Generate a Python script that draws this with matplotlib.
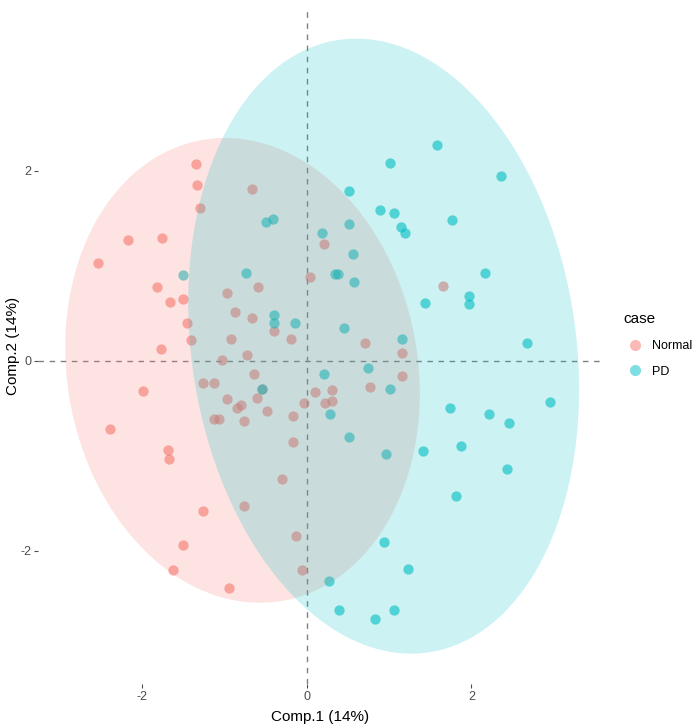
import numpy as np
import matplotlib.pyplot as plt
from matplotlib.lines import Line2D

plt.rcParams['font.family'] = ['Liberation Sans', 'DejaVu Sans']
plt.rcParams['axes.unicode_minus'] = False

# scores
normal_x = [-1.345, -1.337, -0.668, -1.30, -2.17, -1.76, -2.54, 0.214, 0.04, -1.82,
            -0.595, -1.665, -1.50, -0.965, -0.87, -0.66, -1.455, -0.40, -1.405, -0.92,
            -0.195, -1.77, -0.72, -1.033, 1.65, 0.708, 1.162, 0.769, 1.162, -0.637,
            -1.256, -1.123, -1.99, -0.547, -0.608, -0.972, -0.80, -0.843, -0.486, -1.123,
            -1.062, -0.762, -0.17, -0.033, 0.10, 0.307, 0.222, 0.307, -2.39, -1.68,
            -1.67, -0.163, -0.304, -0.762, -1.256, -1.507, -1.628, -0.94, -0.13, -0.061]
normal_y = [2.07, 1.85, 1.81, 1.61, 1.27, 1.29, 1.03, 1.225, 0.88, 0.78,
            0.78, 0.615, 0.65, 0.71, 0.51, 0.446, 0.40, 0.31, 0.215, 0.235,
            0.235, 0.12, 0.057, 0.007, 0.79, 0.19, 0.078, -0.273, -0.16, -0.133,
            -0.238, -0.238, -0.319, -0.30, -0.39, -0.396, -0.466, -0.50, -0.53, -0.61,
            -0.61, -0.635, -0.58, -0.44, -0.326, -0.308, -0.44, -0.42, -0.719, -0.94,
            -1.03, -0.853, -1.238, -1.526, -1.582, -1.94, -2.203, -2.39, -1.845, -2.196]

pd_x = [0.518, -0.50, -0.415, 0.186, 0.518, -1.507, -0.74, 0.344, 0.384, -0.397,
        -0.397, -0.142, 0.453, 1.58, 1.008, 2.36, 0.89, 1.065, 1.142, 1.198,
        1.765, 0.558, 0.575, 2.166, 1.976, 1.976, 1.434, 1.162, 2.68, -0.547,
        0.21, 0.279, 0.271, 0.392, 0.518, 0.749, 1.008, 0.964, 1.41, 1.741,
        2.215, 2.462, 2.956, 1.871, 2.438, 1.814, 0.943, 1.235, 1.065, 0.83]
pd_y = [1.786, 1.457, 1.49, 1.344, 1.436, 0.90, 0.926, 0.916, 0.916, 0.48,
        0.394, 0.40, 0.347, 2.27, 2.08, 1.95, 1.59, 1.56, 1.41, 1.35,
        1.48, 1.12, 0.83, 0.926, 0.684, 0.594, 0.604, 0.225, 0.19, -0.30,
        -0.143, -0.558, -2.316, -2.617, -0.80, -0.073, -0.298, -0.975, -0.947, -0.50,
        -0.558, -0.652, -0.431, -0.894, -1.133, -1.424, -1.905, -2.193, -2.617, -2.72]

# 95% ellipses: centre and covariance
normal_center = [-0.78, -0.10]
normal_cov = [[4.64, -0.52], [-0.52, 5.98]]
pd_center = [0.935, 0.155]
pd_cov = [[5.64, -1.08], [-1.08, 10.47]]

normalColor = "#F8766D"
pdColor = "#00BFC4"


def ellipse(center, cov, n=200):
    t = np.linspace(0, 2 * np.pi, n)
    L = np.linalg.cholesky(np.array(cov))
    pts = L @ np.vstack([np.cos(t), np.sin(t)])
    return pts[0] + center[0], pts[1] + center[1]


fig = plt.figure(figsize=(7, 7.28), dpi=100)
ax = fig.add_axes([38 / 700, 1 - 684 / 728, 565 / 700, 676 / 728])

ax.axhline(0, color="#808080", ls=(0, (4, 4)), lw=1, zorder=1)
ax.axvline(0, color="#808080", ls=(0, (4, 4)), lw=1, zorder=1)

ax.scatter(normal_x, normal_y, s=55, color=normalColor, alpha=0.6, lw=0, zorder=2)
ax.scatter(pd_x, pd_y, s=55, color=pdColor, alpha=0.6, lw=0, zorder=2)

ex, ey = ellipse(normal_center, normal_cov)
ax.fill(ex, ey, color=normalColor, alpha=0.2, lw=0, zorder=3)
ex, ey = ellipse(pd_center, pd_cov)
ax.fill(ex, ey, color=pdColor, alpha=0.2, lw=0, zorder=3)

ax.set_xlim(-3.265, 3.60)
ax.set_ylim(-3.40, 3.713)
ax.set_xticks([-2, 0, 2])
ax.set_yticks([-2, 0, 2])
for s in ax.spines.values():
    s.set_visible(False)
ax.tick_params(length=3, width=0.8, color="#4d4d4d", labelcolor="#4d4d4d", labelsize=9, pad=2)
ax.set_xlabel("Comp.1 (14%)", fontsize=11, labelpad=5)
ax.set_ylabel("Comp.2 (14%)", fontsize=11)
ax.yaxis.set_label_coords(-0.031, 0.5)

handles = [
    Line2D([], [], marker="o", ls="", color=normalColor, alpha=0.5, markersize=8, mew=0),
    Line2D([], [], marker="o", ls="", color=pdColor, alpha=0.5, markersize=8, mew=0),
]
leg = fig.legend(handles, ["Normal", "PD"], title="case", loc="upper left",
                 bbox_to_anchor=(612 / 700, 1 - 301 / 728), frameon=False,
                 fontsize=9, title_fontsize=11, alignment="left",
                 handletextpad=0.5, labelspacing=1.1, handlelength=1.8)

fig.savefig("out.png", dpi=100)
